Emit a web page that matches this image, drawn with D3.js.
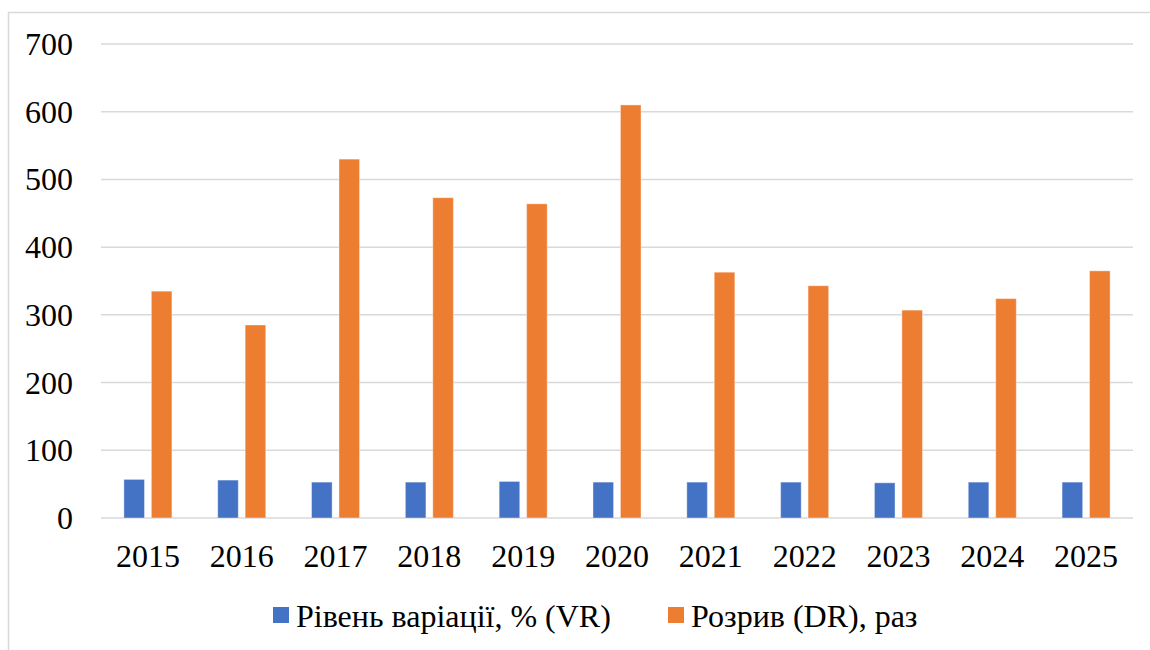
<!DOCTYPE html>
<html>
<head>
<meta charset="utf-8">
<script src="https://cdn.jsdelivr.net/npm/d3@7"></script>
<style>
  html, body { margin: 0; padding: 0; background: #fff; }
  svg { display: block; }
  text { font-family: "Liberation Serif", "Times New Roman", serif; fill: #000; }
</style>
</head>
<body>
<div id="chart"></div>
<script>
// дані
const years = ["2015","2016","2017","2018","2019","2020","2021","2022","2023","2024","2025"];
const seriesNames = ["Рівень варіації, % (VR)", "Розрив (DR), раз"];
const vrValues = [57, 56, 53, 53, 54, 53, 53, 53, 52, 53, 53];
const drValues = [335, 285, 530, 473, 464, 610, 363, 343, 307, 324, 365];
const yTicks = [0, 100, 200, 300, 400, 500, 600, 700];
const colors = ["#4472C4", "#ED7D31"];

const W = 1150, H = 650;
const plotL = 101, plotR = 1133, plotT = 44, plotB = 518;
const serif = "'Liberation Serif', 'Times New Roman', serif";

const svg = d3.select("#chart").append("svg")
    .attr("width", W).attr("height", H);

// рамка
svg.append("rect")
    .attr("x", 8.5).attr("y", 12.5)
    .attr("width", 1200).attr("height", 700)
    .attr("fill", "none").attr("stroke", "#d9d9d9").attr("stroke-width", 1.5);

const x0 = d3.scaleBand().domain(years).range([plotL, plotR])
    .paddingInner(0.488).paddingOuter(0.244);
const x1 = d3.scaleBand().domain(d3.range(seriesNames.length))
    .range([0, x0.bandwidth()]).paddingInner(0.25);
const y = d3.scaleLinear().domain([0, 700]).range([plotB, plotT]);

// сітка
svg.append("g").selectAll("line").data(yTicks).join("line")
    .attr("x1", plotL).attr("x2", plotR)
    .attr("y1", d => y(d)).attr("y2", d => y(d))
    .attr("stroke", "#d9d9d9").attr("stroke-width", 1.5);

// вісь Y
const yAxis = svg.append("g").attr("transform", `translate(${plotL - 28},0)`)
    .call(d3.axisLeft(y).tickValues(yTicks).tickSize(0).tickPadding(0));
yAxis.select(".domain").remove();
yAxis.selectAll("text")
    .style("font-family", serif)
    .style("font-size", "32px").attr("fill", "#000").attr("dy", "0.33em");

// стовпці
const rows = years.map((yr, i) => ({ year: yr, vals: [vrValues[i], drValues[i]] }));
const groups = svg.append("g").selectAll("g").data(rows).join("g")
    .attr("transform", d => `translate(${x0(d.year)},0)`);
groups.selectAll("rect").data(d => d.vals.map((v, k) => ({ k, v }))).join("rect")
    .attr("x", d => x1(d.k))
    .attr("width", x1.bandwidth())
    .attr("y", d => y(d.v))
    .attr("height", d => y(0) - y(d.v))
    .attr("fill", d => colors[d.k])
    .attr("stroke", "#fff").attr("stroke-opacity", 0.4).attr("stroke-width", 1);

// вісь X
const xAxis = svg.append("g").attr("transform", `translate(0,${plotB})`)
    .call(d3.axisBottom(x0).tickSize(0).tickPadding(26));
xAxis.select(".domain").remove();
xAxis.selectAll("text")
    .style("font-family", serif)
    .style("font-size", "32px").attr("fill", "#000");

// легенда
const legendItems = [{ x: 273, k: 0 }, { x: 668, k: 1 }];
const legend = svg.append("g").selectAll("g").data(legendItems).join("g")
    .attr("transform", d => `translate(${d.x},607)`);
legend.append("rect").attr("width", 16).attr("height", 16)
    .attr("fill", d => colors[d.k]);
legend.append("text").attr("x", 23).attr("y", 20)
    .style("font-family", serif)
    .style("font-size", "32px")
    .text(d => seriesNames[d.k]);
</script>
</body>
</html>
